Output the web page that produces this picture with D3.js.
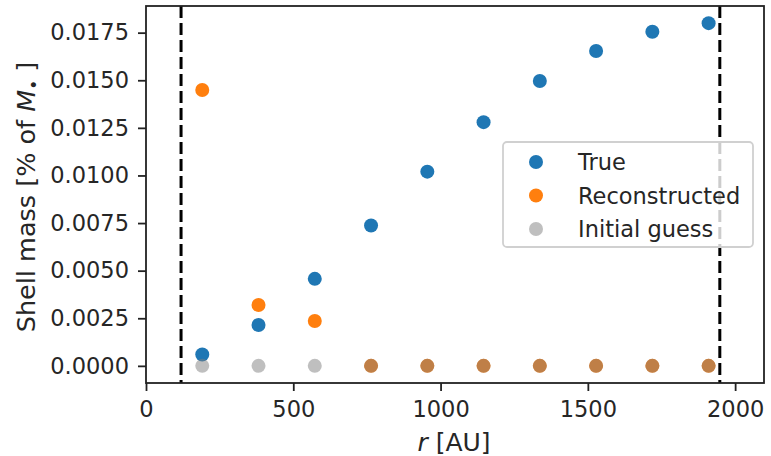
<!DOCTYPE html>
<html>
<head>
<meta charset="utf-8">
<script src="https://cdn.jsdelivr.net/npm/d3@7"></script>
<style>
  body { margin: 0; background: #fff; }
  text { font-family: "DejaVu Sans", sans-serif; fill: #262626; }
</style>
</head>
<body>
<script>
// shell radii and masses
const radii = [191, 382, 573, 764, 955, 1146, 1337, 1528, 1719, 1910];
const trueMass = [0.0006, 0.00215, 0.00457, 0.00737, 0.0102, 0.0128, 0.01496, 0.01654, 0.01755, 0.0180];
const recMass = [0.01449, 0.0032, 0.00236, 0, 0, 0, 0, 0, 0, 0];
const guessMass = [0, 0, 0, 0, 0, 0, 0, 0, 0, 0];
const bounds = [119, 1948];
const xTicks = [0, 500, 1000, 1500, 2000];
const yTicks = [0, 0.0025, 0.005, 0.0075, 0.01, 0.0125, 0.015, 0.0175];
const seriesNames = ["True", "Reconstructed", "Initial guess"];

const W = 771, H = 456;
const pLeft = 146, pRight = 764, pTop = 6, pBottom = 383;

const svg = d3.select("body").append("svg")
  .attr("width", W)
  .attr("height", H);

const x = d3.scaleLinear().domain([0, 2098]).range([pLeft, pRight]);
const y = d3.scaleLinear().domain([-0.0009, 0.0189]).range([pBottom, pTop]);

// axes
const xAxis = svg.append("g")
  .attr("transform", `translate(0,${pBottom})`)
  .call(d3.axisBottom(x).tickValues(xTicks).tickFormat(d3.format("d")).tickSize(8).tickPadding(10).tickSizeOuter(0));
const yAxis = svg.append("g")
  .attr("transform", `translate(${pLeft},0)`)
  .call(d3.axisLeft(y).tickValues(yTicks).tickFormat(d3.format(".4f")).tickSize(8).tickPadding(9).tickSizeOuter(0));

[xAxis, yAxis].forEach(function (g) {
  g.select(".domain").remove();
  g.selectAll(".tick line").attr("stroke", "#222").attr("stroke-width", 1.8);
  g.selectAll(".tick text").style("font-size", "22.5px").style("font-family", "DejaVu Sans").attr("fill", "#262626");
});

// points
const series = [
  { vals: trueMass, color: "#1f77b4", op: 1 },
  { vals: recMass, color: "#ff7f0e", op: 1 },
  { vals: guessMass, color: "#7f7f7f", op: 0.5 }
];
series.forEach(function (s) {
  svg.append("g").selectAll("circle")
    .data(radii.map(function (r, i) { return [r, s.vals[i]]; }))
    .enter().append("circle")
    .attr("cx", function (d) { return x(d[0]); })
    .attr("cy", function (d) { return y(d[1]); })
    .attr("r", 7)
    .attr("fill", s.color)
    .attr("fill-opacity", s.op);
});

// inner / outer boundary
svg.append("g").selectAll("line")
  .data(bounds)
  .enter().append("line")
  .attr("x1", function (d) { return x(d); })
  .attr("x2", function (d) { return x(d); })
  .attr("y1", pTop)
  .attr("y2", pBottom)
  .attr("stroke", "#000")
  .attr("stroke-width", 3)
  .attr("stroke-dasharray", "12,5");

// frame
svg.append("rect")
  .attr("x", pLeft).attr("y", pTop)
  .attr("width", pRight - pLeft).attr("height", pBottom - pTop)
  .attr("fill", "none")
  .attr("stroke", "#222")
  .attr("stroke-width", 1.8);

// labels
const xl = svg.append("text")
  .attr("x", 454)
  .attr("y", 451)
  .attr("text-anchor", "middle")
  .style("font-size", "25px");
xl.append("tspan").style("font-style", "italic").text("r");
xl.append("tspan").text(" [AU]");

const yl = svg.append("text")
  .attr("transform", "translate(35,197) rotate(-90)")
  .attr("text-anchor", "middle")
  .style("font-size", "25.5px");
yl.append("tspan").text("Shell mass [% of ");
yl.append("tspan").style("font-style", "italic").text("M");
yl.append("tspan").attr("dy", 5).style("font-size", "17px").text("\u2022");
yl.append("tspan").attr("dy", -5).text(" ]");

// legend
const lg = svg.append("g");
lg.append("rect")
  .attr("x", 503).attr("y", 142)
  .attr("width", 250).attr("height", 105)
  .attr("rx", 4)
  .attr("fill", "#fff").attr("fill-opacity", 0.8)
  .attr("stroke", "#d0d0d0").attr("stroke-width", 1.8);
const items = lg.selectAll("g.item")
  .data(seriesNames)
  .enter().append("g")
  .attr("class", "item")
  .attr("transform", function (d, i) { return `translate(0,${162 + i * 33.5})`; });
items.append("circle")
  .attr("cx", 536).attr("cy", 0).attr("r", 7)
  .attr("fill", function (d, i) { return series[i].color; })
  .attr("fill-opacity", function (d, i) { return series[i].op; });
items.append("text")
  .attr("x", 578).attr("y", 0).attr("dy", "0.36em")
  .style("font-size", "22.5px")
  .text(function (d) { return d; });
</script>
</body>
</html>
